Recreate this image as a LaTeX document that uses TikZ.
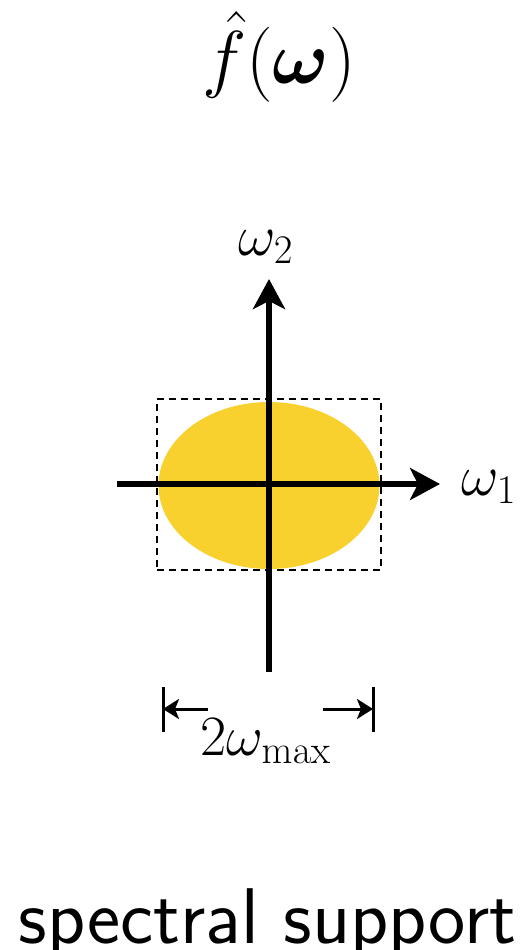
\RequirePackage{fix-cm}
\documentclass[tikz,border=0pt]{standalone}
\usepackage{amsmath}
\usetikzlibrary{arrows.meta}
\definecolor{support}{RGB}{249,209,46}
\tikzset{
  axis/.style={line width=2.75pt, -{Stealth[length=15pt,width=16pt,inset=4pt]}},
  dimarrow/.style={line width=1.5pt, -{Stealth[length=8pt,width=10pt,inset=2pt]}},
  dimbar/.style={line width=1.5pt},
  boxline/.style={line width=0.75pt, dash pattern=on 3.5pt off 2.5pt},
  lbl/.style={inner sep=0pt, anchor=base}
}
\begin{document}
\begin{tikzpicture}[x=0.5pt,y=-0.5pt]
\useasboundingbox (0,0) rectangle (525,950);
% title
\node[lbl, font=\fontsize{37.5}{45}\selectfont] (title) at (279,83) {$\hat{f}(\boldsymbol{\omega})$};
% support region
\fill[support] (269,485.5) ellipse [x radius=110.5, y radius=83.5];
\node[draw, boxline, minimum width=112pt, minimum height=85.5pt, inner sep=0pt] (box) at (269,484.5) {};
% axes
\coordinate (xs) at (117,484);
\coordinate (xe) at (440,484);
\coordinate (ys) at (269,672);
\coordinate (ye) at (269,279);
\draw[axis] (xs) -- (xe);
\draw[axis] (ys) -- (ye);
\node[lbl, anchor=base west, font=\fontsize{29}{35}\selectfont] (w1) at (461,495) {$\omega_1$};
\node[lbl, font=\fontsize{29}{35}\selectfont] (w2) at (266,255) {$\omega_2$};
% dimension
\coordinate (lt) at (163,687);
\coordinate (lb) at (163,732);
\coordinate (rt) at (373,687);
\coordinate (rb) at (373,732);
\coordinate (la) at (208,709);
\coordinate (lh) at (163,709);
\coordinate (ra) at (323,709);
\coordinate (rh) at (373,709);
\draw[dimbar] (lt) -- (lb);
\draw[dimbar] (rt) -- (rb);
\draw[dimarrow] (la) -- (lh);
\draw[dimarrow] (ra) -- (rh);
\node[lbl, font=\fontsize{28.5}{34}\selectfont] (dim) at (266,755) {$2\omega_{\max}$};
% caption
\node[lbl, font=\fontsize{39.5}{47}\selectfont\sffamily] (cap) at (267.5,943) {spectral support};
\end{tikzpicture}
\end{document}
